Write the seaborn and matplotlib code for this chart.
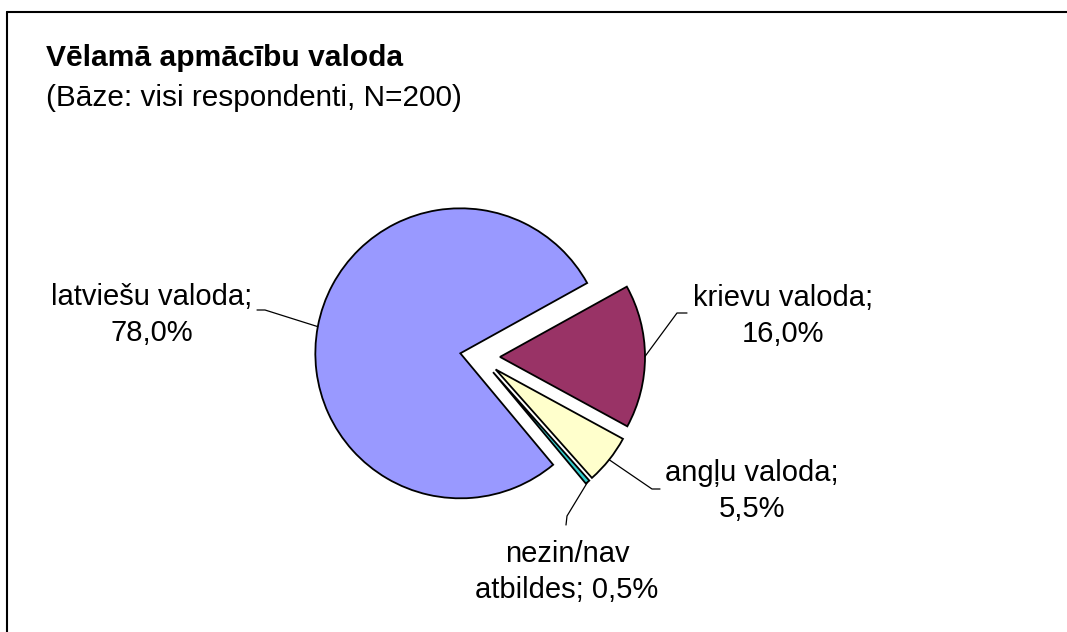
import numpy as np
import matplotlib
matplotlib.use('Agg')
from matplotlib import pyplot as plt
import seaborn as sns

# dati
names = ['latviešu valoda', 'krievu valoda', 'angļu valoda', 'nezin/nav\natbildes']
shares = [78.0, 16.0, 5.5, 0.5]
colors = ['#9999FF', '#993366', '#FFFFCC', '#33CCCC']

title = 'Vēlamā apmācību valoda'
subtitle = '(Bāze: visi respondenti, N=200)'

sns.set_theme(style='white')
plt.rcParams['font.family'] = ['Liberation Sans', 'DejaVu Sans']
plt.rcParams['text.color'] = 'black'

W, H = 1067, 632
fig = plt.figure(figsize=(W / 100, H / 100), dpi=100)
ax = fig.add_axes([0, 0, 1, 1])

# pīrāgs (koordinātas pikseļos, explode arī pikseļos)
radius = 145
wedges, _ = ax.pie(shares, colors=colors, radius=radius, center=(480, H - 357),
                   explode=[20] * len(shares), startangle=-50.2, counterclock=False,
                   wedgeprops=dict(edgecolor='black', linewidth=1.3), frame=True)
ax.set_xlim(0, W)
ax.set_ylim(0, H)
ax.axis('off')

# rāmis (tikai kreisā un augšējā mala redzama)
ax.plot([6.5, 6.5], [-5, H - 11.5], color='black', lw=1.5, clip_on=False)
ax.plot([6.5, W + 5], [H - 11.5, H - 11.5], color='black', lw=1.5, clip_on=False)

ax.text(46, H - 66, title, fontsize=21.6, fontweight='bold', ha='left', va='baseline')
ax.text(46, H - 106, subtitle, fontsize=21.4, ha='left', va='baseline')

# etiķešu novietojums (attēla koordinātas) un līnijas lūzuma punkti
label_pos = [(152, 315), (783, 316), (752, 491), (567, 572)]
elbows = [[(265, 310), (257, 310)],
          [(677, 313), (687, 313)],
          [(652, 489), (660, 489)],
          [(567, 516), (566, 525)]]

for w, name, val, (lx, ly), elb in zip(wedges, names, shares, label_pos, elbows):
    mid = np.deg2rad((w.theta1 + w.theta2) / 2)
    cx, cy = w.center
    ax_x = cx + w.r * np.cos(mid)
    ax_y = cy + w.r * np.sin(mid)
    xs = [ax_x] + [p[0] for p in elb]
    ys = [ax_y] + [H - p[1] for p in elb]
    ax.plot(xs, ys, color='black', lw=0.9)
    sep = ' ' if '\n' in name else '\n'
    txt = f'{name};{sep}{val:.1f}%'.replace('.', ',')
    ax.text(lx, H - ly, txt, fontsize=21, ha='center', va='center', linespacing=1.35)

fig.savefig('out.png', dpi=100, facecolor='white')
